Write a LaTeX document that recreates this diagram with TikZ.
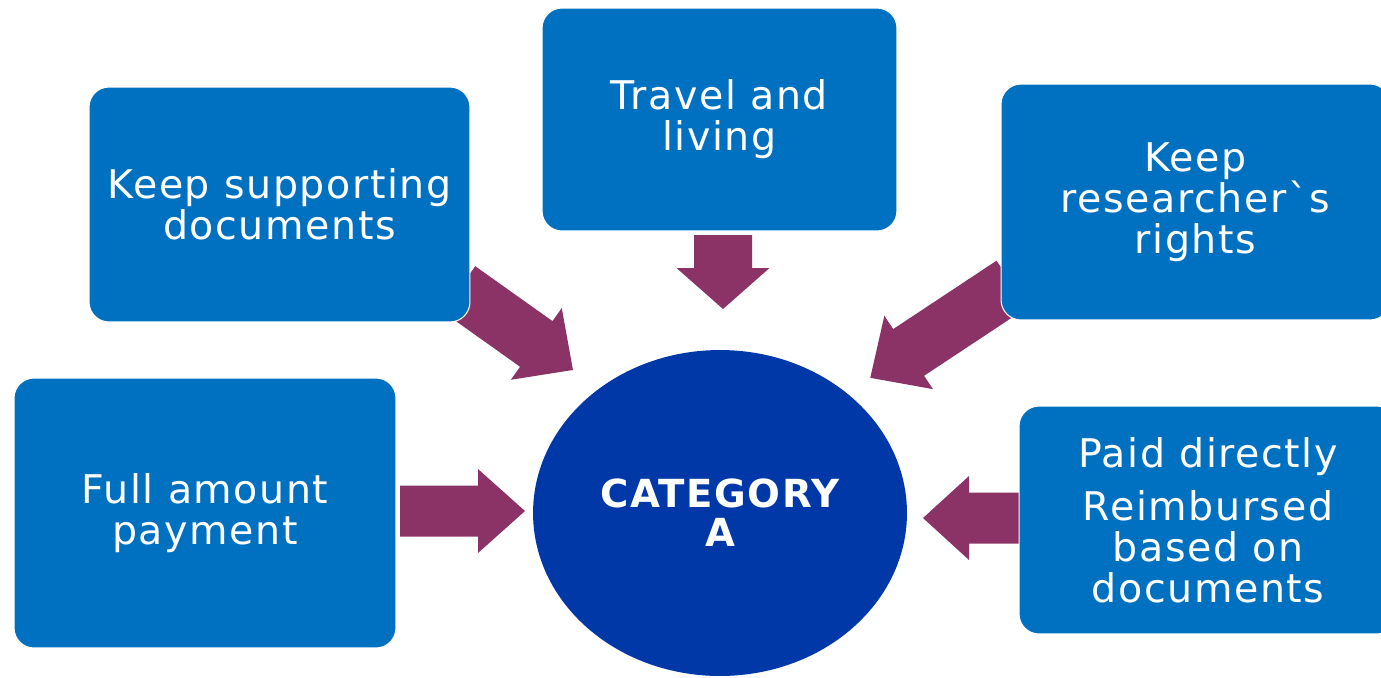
\documentclass[tikz,border=0pt]{standalone}
\usepackage{fontspec}
\setmainfont{DejaVu Sans}[LetterSpace=4]
\usetikzlibrary{calc,shapes.geometric}
\definecolor{boxc}{HTML}{0070C0}
\definecolor{ellc}{HTML}{0038A8}
\definecolor{arrc}{HTML}{8B3366}
% #1 tail, #2 tip, #3 shaft half width, #4 head half width, #5 head length
\newcommand\blockarrow[5]{%
 \fill[arrc] let \p1=($(#2)-(#1)$), \n1={atan2(\y1,\x1)}, \n2={veclen(\x1,\y1)} in
  {[shift={(#1)}, rotate=\n1] (0pt,-#3) -- ({\n2-#5},-#3) -- ({\n2-#5},-#4) -- (\n2,0pt)
   -- ({\n2-#5},#4) -- ({\n2-#5},#3) -- (0pt,#3) -- cycle};}
\begin{document}
\begin{tikzpicture}[x=0.02cm,y=-0.02cm,
  box/.style={fill=boxc, draw=white, line width=0.6pt, rounded corners=0.4cm, text=white, align=center,
    font=\fontsize{22.5}{23.3}\selectfont, inner sep=0pt},
  hub/.style={ellipse, fill=ellc, text=white, align=center, inner sep=0pt,
    font=\fontsize{22}{22.2}\selectfont\bfseries}]
\useasboundingbox (0,0) rectangle (1381,677);
\fill[white] (0,0) rectangle (1381,677);

% connector end points
\coordinate (t1) at (723,235);  \coordinate (h1) at (723,309);
\coordinate (t2) at (459,289);  \coordinate (h2) at (573,370);
\coordinate (t3) at (1012,284); \coordinate (h3) at (870,378);
\coordinate (t4) at (400,511);  \coordinate (h4) at (525,511);
\coordinate (t5) at (1025,518); \coordinate (h5) at (923,518);

\blockarrow{t1}{h1}{0.58cm}{0.93cm}{0.82cm}
\blockarrow{t2}{h2}{0.56cm}{0.88cm}{0.9cm}
\blockarrow{t3}{h3}{0.56cm}{0.88cm}{0.92cm}
\blockarrow{t4}{h4}{0.51cm}{0.84cm}{0.94cm}
\blockarrow{t5}{h5}{0.51cm}{0.84cm}{0.92cm}

\node[box, minimum width=7.62cm, minimum height=4.7cm] (docs) at (279.5,204.5) {Keep supporting\\documents};
\node[box, minimum width=7.1cm, minimum height=4.46cm] (travel) at (719.5,119.5) {Travel and\\living};
\node[box, minimum width=7.78cm, minimum height=4.72cm] (rights) at (1195.5,202) {Keep\\researcher\symbol{"02CB}s\\rights};
\node[box, minimum width=7.64cm, minimum height=5.4cm] (full) at (205,513) {Full amount\\payment};
\node[box, minimum width=7.56cm, minimum height=4.56cm] (paid) at (1208,520) {Paid directly\\[7pt]Reimbursed\\based on\\documents};

\node[hub, minimum width=7.48cm, minimum height=6.52cm] (cat) at (720,513) {CATEGORY\\A};
\end{tikzpicture}
\end{document}
